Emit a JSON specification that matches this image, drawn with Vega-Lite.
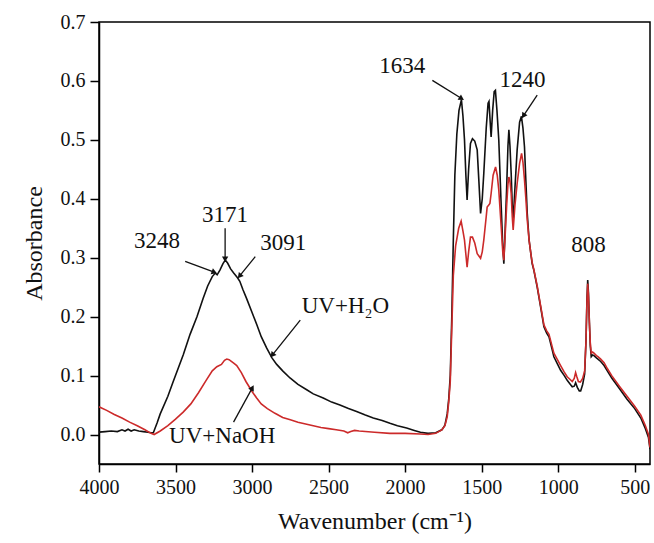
{
  "$schema": "https://vega.github.io/schema/vega-lite/v6.json",
  "autosize": {"type": "none"},
  "padding": {"left": 99, "top": 22, "right": 3, "bottom": 79},
  "width": 551,
  "height": 442,
  "background": "white",
  "config": {
    "view": {"stroke": "black", "strokeWidth": 1.5},
    "axis": {"domainColor": "black", "domainWidth": 1.5, "tickColor": "black", "tickWidth": 1.5, "labelColor": "#111", "titleColor": "#111", "labelFont": "Liberation Serif", "titleFont": "Liberation Serif", "titleFontWeight": "normal", "grid": false},
    "text": {"font": "Liberation Serif"}
  },
  "datasets": {
    "spectra": [
      {"wn":4000,"a":0.004,"s":"UV+H2O"},{"wn":3960,"a":0.005,"s":"UV+H2O"},{"wn":3920,"a":0.006,"s":"UV+H2O"},{"wn":3880,"a":0.005,"s":"UV+H2O"},{"wn":3850,"a":0.008,"s":"UV+H2O"},{"wn":3830,"a":0.006,"s":"UV+H2O"},{"wn":3810,"a":0.009,"s":"UV+H2O"},{"wn":3790,"a":0.006,"s":"UV+H2O"},{"wn":3770,"a":0.008,"s":"UV+H2O"},{"wn":3740,"a":0.006,"s":"UV+H2O"},{"wn":3710,"a":0.005,"s":"UV+H2O"},{"wn":3680,"a":0.004,"s":"UV+H2O"},{"wn":3660,"a":0.003,"s":"UV+H2O"},{"wn":3645,"a":0.003,"s":"UV+H2O"},{"wn":3620,"a":0.02,"s":"UV+H2O"},{"wn":3600,"a":0.035,"s":"UV+H2O"},{"wn":3550,"a":0.065,"s":"UV+H2O"},{"wn":3515,"a":0.09,"s":"UV+H2O"},{"wn":3450,"a":0.135,"s":"UV+H2O"},{"wn":3405,"a":0.17,"s":"UV+H2O"},{"wn":3360,"a":0.2,"s":"UV+H2O"},{"wn":3320,"a":0.231,"s":"UV+H2O"},{"wn":3290,"a":0.252,"s":"UV+H2O"},{"wn":3260,"a":0.268,"s":"UV+H2O"},{"wn":3240,"a":0.274,"s":"UV+H2O"},{"wn":3228,"a":0.271,"s":"UV+H2O"},{"wn":3210,"a":0.279,"s":"UV+H2O"},{"wn":3190,"a":0.29,"s":"UV+H2O"},{"wn":3175,"a":0.296,"s":"UV+H2O"},{"wn":3160,"a":0.291,"s":"UV+H2O"},{"wn":3140,"a":0.281,"s":"UV+H2O"},{"wn":3120,"a":0.274,"s":"UV+H2O"},{"wn":3095,"a":0.266,"s":"UV+H2O"},{"wn":3080,"a":0.26,"s":"UV+H2O"},{"wn":3060,"a":0.246,"s":"UV+H2O"},{"wn":3036,"a":0.231,"s":"UV+H2O"},{"wn":3000,"a":0.207,"s":"UV+H2O"},{"wn":2970,"a":0.187,"s":"UV+H2O"},{"wn":2940,"a":0.166,"s":"UV+H2O"},{"wn":2905,"a":0.147,"s":"UV+H2O"},{"wn":2870,"a":0.13,"s":"UV+H2O"},{"wn":2839,"a":0.119,"s":"UV+H2O"},{"wn":2800,"a":0.108,"s":"UV+H2O"},{"wn":2752,"a":0.096,"s":"UV+H2O"},{"wn":2700,"a":0.085,"s":"UV+H2O"},{"wn":2643,"a":0.076,"s":"UV+H2O"},{"wn":2600,"a":0.069,"s":"UV+H2O"},{"wn":2535,"a":0.062,"s":"UV+H2O"},{"wn":2480,"a":0.055,"s":"UV+H2O"},{"wn":2426,"a":0.05,"s":"UV+H2O"},{"wn":2370,"a":0.044,"s":"UV+H2O"},{"wn":2317,"a":0.039,"s":"UV+H2O"},{"wn":2260,"a":0.033,"s":"UV+H2O"},{"wn":2208,"a":0.028,"s":"UV+H2O"},{"wn":2150,"a":0.024,"s":"UV+H2O"},{"wn":2099,"a":0.019,"s":"UV+H2O"},{"wn":2050,"a":0.015,"s":"UV+H2O"},{"wn":1990,"a":0.011,"s":"UV+H2O"},{"wn":1940,"a":0.007,"s":"UV+H2O"},{"wn":1900,"a":0.004,"s":"UV+H2O"},{"wn":1850,"a":0.002,"s":"UV+H2O"},{"wn":1800,"a":0.003,"s":"UV+H2O"},{"wn":1760,"a":0.008,"s":"UV+H2O"},{"wn":1740,"a":0.016,"s":"UV+H2O"},{"wn":1725,"a":0.035,"s":"UV+H2O"},{"wn":1715,"a":0.06,"s":"UV+H2O"},{"wn":1705,"a":0.1,"s":"UV+H2O"},{"wn":1695,"a":0.2,"s":"UV+H2O"},{"wn":1685,"a":0.33,"s":"UV+H2O"},{"wn":1675,"a":0.44,"s":"UV+H2O"},{"wn":1662,"a":0.51,"s":"UV+H2O"},{"wn":1648,"a":0.55,"s":"UV+H2O"},{"wn":1632,"a":0.568,"s":"UV+H2O"},{"wn":1622,"a":0.54,"s":"UV+H2O"},{"wn":1612,"a":0.5,"s":"UV+H2O"},{"wn":1603,"a":0.44,"s":"UV+H2O"},{"wn":1595,"a":0.398,"s":"UV+H2O"},{"wn":1585,"a":0.45,"s":"UV+H2O"},{"wn":1573,"a":0.494,"s":"UV+H2O"},{"wn":1560,"a":0.502,"s":"UV+H2O"},{"wn":1545,"a":0.498,"s":"UV+H2O"},{"wn":1529,"a":0.483,"s":"UV+H2O"},{"wn":1518,"a":0.43,"s":"UV+H2O"},{"wn":1507,"a":0.375,"s":"UV+H2O"},{"wn":1496,"a":0.4,"s":"UV+H2O"},{"wn":1486,"a":0.443,"s":"UV+H2O"},{"wn":1470,"a":0.52,"s":"UV+H2O"},{"wn":1458,"a":0.562,"s":"UV+H2O"},{"wn":1452,"a":0.565,"s":"UV+H2O"},{"wn":1444,"a":0.53,"s":"UV+H2O"},{"wn":1438,"a":0.505,"s":"UV+H2O"},{"wn":1428,"a":0.55,"s":"UV+H2O"},{"wn":1418,"a":0.582,"s":"UV+H2O"},{"wn":1410,"a":0.584,"s":"UV+H2O"},{"wn":1400,"a":0.55,"s":"UV+H2O"},{"wn":1388,"a":0.5,"s":"UV+H2O"},{"wn":1372,"a":0.386,"s":"UV+H2O"},{"wn":1362,"a":0.32,"s":"UV+H2O"},{"wn":1355,"a":0.29,"s":"UV+H2O"},{"wn":1346,"a":0.35,"s":"UV+H2O"},{"wn":1337,"a":0.415,"s":"UV+H2O"},{"wn":1328,"a":0.49,"s":"UV+H2O"},{"wn":1322,"a":0.517,"s":"UV+H2O"},{"wn":1315,"a":0.49,"s":"UV+H2O"},{"wn":1307,"a":0.443,"s":"UV+H2O"},{"wn":1300,"a":0.39,"s":"UV+H2O"},{"wn":1294,"a":0.364,"s":"UV+H2O"},{"wn":1282,"a":0.42,"s":"UV+H2O"},{"wn":1268,"a":0.483,"s":"UV+H2O"},{"wn":1252,"a":0.53,"s":"UV+H2O"},{"wn":1240,"a":0.54,"s":"UV+H2O"},{"wn":1230,"a":0.52,"s":"UV+H2O"},{"wn":1220,"a":0.488,"s":"UV+H2O"},{"wn":1211,"a":0.43,"s":"UV+H2O"},{"wn":1202,"a":0.375,"s":"UV+H2O"},{"wn":1190,"a":0.33,"s":"UV+H2O"},{"wn":1180,"a":0.31,"s":"UV+H2O"},{"wn":1170,"a":0.29,"s":"UV+H2O"},{"wn":1159,"a":0.279,"s":"UV+H2O"},{"wn":1137,"a":0.25,"s":"UV+H2O"},{"wn":1115,"a":0.217,"s":"UV+H2O"},{"wn":1093,"a":0.183,"s":"UV+H2O"},{"wn":1075,"a":0.172,"s":"UV+H2O"},{"wn":1060,"a":0.166,"s":"UV+H2O"},{"wn":1040,"a":0.145,"s":"UV+H2O"},{"wn":1028,"a":0.132,"s":"UV+H2O"},{"wn":1005,"a":0.12,"s":"UV+H2O"},{"wn":984,"a":0.109,"s":"UV+H2O"},{"wn":960,"a":0.1,"s":"UV+H2O"},{"wn":941,"a":0.092,"s":"UV+H2O"},{"wn":920,"a":0.085,"s":"UV+H2O"},{"wn":908,"a":0.081,"s":"UV+H2O"},{"wn":895,"a":0.082,"s":"UV+H2O"},{"wn":886,"a":0.088,"s":"UV+H2O"},{"wn":875,"a":0.08,"s":"UV+H2O"},{"wn":862,"a":0.074,"s":"UV+H2O"},{"wn":853,"a":0.074,"s":"UV+H2O"},{"wn":840,"a":0.085,"s":"UV+H2O"},{"wn":827,"a":0.103,"s":"UV+H2O"},{"wn":818,"a":0.16,"s":"UV+H2O"},{"wn":812,"a":0.23,"s":"UV+H2O"},{"wn":807,"a":0.262,"s":"UV+H2O"},{"wn":802,"a":0.24,"s":"UV+H2O"},{"wn":796,"a":0.19,"s":"UV+H2O"},{"wn":790,"a":0.15,"s":"UV+H2O"},{"wn":784,"a":0.132,"s":"UV+H2O"},{"wn":775,"a":0.135,"s":"UV+H2O"},{"wn":766,"a":0.134,"s":"UV+H2O"},{"wn":750,"a":0.13,"s":"UV+H2O"},{"wn":740,"a":0.128,"s":"UV+H2O"},{"wn":722,"a":0.124,"s":"UV+H2O"},{"wn":700,"a":0.117,"s":"UV+H2O"},{"wn":679,"a":0.108,"s":"UV+H2O"},{"wn":650,"a":0.096,"s":"UV+H2O"},{"wn":600,"a":0.078,"s":"UV+H2O"},{"wn":550,"a":0.06,"s":"UV+H2O"},{"wn":500,"a":0.044,"s":"UV+H2O"},{"wn":460,"a":0.028,"s":"UV+H2O"},{"wn":430,"a":0.01,"s":"UV+H2O"},{"wn":410,"a":-0.005,"s":"UV+H2O"},{"wn":400,"a":-0.025,"s":"UV+H2O"},
      {"wn":4000,"a":0.047,"s":"UV+NaOH"},{"wn":3950,"a":0.041,"s":"UV+NaOH"},{"wn":3900,"a":0.034,"s":"UV+NaOH"},{"wn":3850,"a":0.028,"s":"UV+NaOH"},{"wn":3800,"a":0.021,"s":"UV+NaOH"},{"wn":3750,"a":0.015,"s":"UV+NaOH"},{"wn":3700,"a":0.008,"s":"UV+NaOH"},{"wn":3660,"a":0.002,"s":"UV+NaOH"},{"wn":3640,"a":0.0,"s":"UV+NaOH"},{"wn":3600,"a":0.006,"s":"UV+NaOH"},{"wn":3550,"a":0.015,"s":"UV+NaOH"},{"wn":3500,"a":0.026,"s":"UV+NaOH"},{"wn":3450,"a":0.038,"s":"UV+NaOH"},{"wn":3400,"a":0.052,"s":"UV+NaOH"},{"wn":3350,"a":0.071,"s":"UV+NaOH"},{"wn":3300,"a":0.092,"s":"UV+NaOH"},{"wn":3260,"a":0.108,"s":"UV+NaOH"},{"wn":3230,"a":0.115,"s":"UV+NaOH"},{"wn":3200,"a":0.119,"s":"UV+NaOH"},{"wn":3180,"a":0.126,"s":"UV+NaOH"},{"wn":3165,"a":0.128,"s":"UV+NaOH"},{"wn":3150,"a":0.127,"s":"UV+NaOH"},{"wn":3120,"a":0.121,"s":"UV+NaOH"},{"wn":3100,"a":0.117,"s":"UV+NaOH"},{"wn":3070,"a":0.105,"s":"UV+NaOH"},{"wn":3040,"a":0.09,"s":"UV+NaOH"},{"wn":3000,"a":0.073,"s":"UV+NaOH"},{"wn":2970,"a":0.062,"s":"UV+NaOH"},{"wn":2940,"a":0.052,"s":"UV+NaOH"},{"wn":2900,"a":0.044,"s":"UV+NaOH"},{"wn":2850,"a":0.036,"s":"UV+NaOH"},{"wn":2800,"a":0.029,"s":"UV+NaOH"},{"wn":2750,"a":0.025,"s":"UV+NaOH"},{"wn":2700,"a":0.021,"s":"UV+NaOH"},{"wn":2650,"a":0.018,"s":"UV+NaOH"},{"wn":2600,"a":0.015,"s":"UV+NaOH"},{"wn":2550,"a":0.012,"s":"UV+NaOH"},{"wn":2500,"a":0.01,"s":"UV+NaOH"},{"wn":2450,"a":0.008,"s":"UV+NaOH"},{"wn":2400,"a":0.006,"s":"UV+NaOH"},{"wn":2375,"a":0.003,"s":"UV+NaOH"},{"wn":2355,"a":0.005,"s":"UV+NaOH"},{"wn":2330,"a":0.007,"s":"UV+NaOH"},{"wn":2300,"a":0.006,"s":"UV+NaOH"},{"wn":2200,"a":0.004,"s":"UV+NaOH"},{"wn":2100,"a":0.002,"s":"UV+NaOH"},{"wn":2000,"a":0.002,"s":"UV+NaOH"},{"wn":1900,"a":0.001,"s":"UV+NaOH"},{"wn":1850,"a":0.0,"s":"UV+NaOH"},{"wn":1800,"a":0.002,"s":"UV+NaOH"},{"wn":1760,"a":0.008,"s":"UV+NaOH"},{"wn":1740,"a":0.015,"s":"UV+NaOH"},{"wn":1725,"a":0.03,"s":"UV+NaOH"},{"wn":1715,"a":0.055,"s":"UV+NaOH"},{"wn":1705,"a":0.09,"s":"UV+NaOH"},{"wn":1695,"a":0.18,"s":"UV+NaOH"},{"wn":1685,"a":0.27,"s":"UV+NaOH"},{"wn":1670,"a":0.32,"s":"UV+NaOH"},{"wn":1650,"a":0.35,"s":"UV+NaOH"},{"wn":1634,"a":0.362,"s":"UV+NaOH"},{"wn":1622,"a":0.345,"s":"UV+NaOH"},{"wn":1612,"a":0.33,"s":"UV+NaOH"},{"wn":1595,"a":0.284,"s":"UV+NaOH"},{"wn":1585,"a":0.31,"s":"UV+NaOH"},{"wn":1573,"a":0.335,"s":"UV+NaOH"},{"wn":1560,"a":0.335,"s":"UV+NaOH"},{"wn":1545,"a":0.325,"s":"UV+NaOH"},{"wn":1529,"a":0.307,"s":"UV+NaOH"},{"wn":1507,"a":0.299,"s":"UV+NaOH"},{"wn":1496,"a":0.31,"s":"UV+NaOH"},{"wn":1486,"a":0.33,"s":"UV+NaOH"},{"wn":1470,"a":0.37,"s":"UV+NaOH"},{"wn":1464,"a":0.386,"s":"UV+NaOH"},{"wn":1452,"a":0.39,"s":"UV+NaOH"},{"wn":1446,"a":0.392,"s":"UV+NaOH"},{"wn":1438,"a":0.409,"s":"UV+NaOH"},{"wn":1425,"a":0.44,"s":"UV+NaOH"},{"wn":1409,"a":0.454,"s":"UV+NaOH"},{"wn":1398,"a":0.44,"s":"UV+NaOH"},{"wn":1388,"a":0.415,"s":"UV+NaOH"},{"wn":1372,"a":0.352,"s":"UV+NaOH"},{"wn":1362,"a":0.31,"s":"UV+NaOH"},{"wn":1355,"a":0.296,"s":"UV+NaOH"},{"wn":1346,"a":0.34,"s":"UV+NaOH"},{"wn":1337,"a":0.386,"s":"UV+NaOH"},{"wn":1328,"a":0.425,"s":"UV+NaOH"},{"wn":1322,"a":0.437,"s":"UV+NaOH"},{"wn":1315,"a":0.43,"s":"UV+NaOH"},{"wn":1307,"a":0.409,"s":"UV+NaOH"},{"wn":1300,"a":0.37,"s":"UV+NaOH"},{"wn":1294,"a":0.347,"s":"UV+NaOH"},{"wn":1282,"a":0.39,"s":"UV+NaOH"},{"wn":1268,"a":0.426,"s":"UV+NaOH"},{"wn":1252,"a":0.46,"s":"UV+NaOH"},{"wn":1239,"a":0.477,"s":"UV+NaOH"},{"wn":1230,"a":0.462,"s":"UV+NaOH"},{"wn":1220,"a":0.432,"s":"UV+NaOH"},{"wn":1211,"a":0.4,"s":"UV+NaOH"},{"wn":1202,"a":0.364,"s":"UV+NaOH"},{"wn":1190,"a":0.33,"s":"UV+NaOH"},{"wn":1180,"a":0.31,"s":"UV+NaOH"},{"wn":1170,"a":0.292,"s":"UV+NaOH"},{"wn":1159,"a":0.28,"s":"UV+NaOH"},{"wn":1137,"a":0.252,"s":"UV+NaOH"},{"wn":1115,"a":0.219,"s":"UV+NaOH"},{"wn":1093,"a":0.186,"s":"UV+NaOH"},{"wn":1075,"a":0.176,"s":"UV+NaOH"},{"wn":1060,"a":0.17,"s":"UV+NaOH"},{"wn":1040,"a":0.15,"s":"UV+NaOH"},{"wn":1028,"a":0.138,"s":"UV+NaOH"},{"wn":1005,"a":0.127,"s":"UV+NaOH"},{"wn":984,"a":0.117,"s":"UV+NaOH"},{"wn":960,"a":0.106,"s":"UV+NaOH"},{"wn":941,"a":0.098,"s":"UV+NaOH"},{"wn":920,"a":0.093,"s":"UV+NaOH"},{"wn":908,"a":0.09,"s":"UV+NaOH"},{"wn":895,"a":0.095,"s":"UV+NaOH"},{"wn":886,"a":0.105,"s":"UV+NaOH"},{"wn":878,"a":0.098,"s":"UV+NaOH"},{"wn":868,"a":0.09,"s":"UV+NaOH"},{"wn":855,"a":0.089,"s":"UV+NaOH"},{"wn":840,"a":0.095,"s":"UV+NaOH"},{"wn":827,"a":0.108,"s":"UV+NaOH"},{"wn":818,"a":0.16,"s":"UV+NaOH"},{"wn":812,"a":0.225,"s":"UV+NaOH"},{"wn":807,"a":0.256,"s":"UV+NaOH"},{"wn":802,"a":0.235,"s":"UV+NaOH"},{"wn":796,"a":0.19,"s":"UV+NaOH"},{"wn":790,"a":0.155,"s":"UV+NaOH"},{"wn":784,"a":0.138,"s":"UV+NaOH"},{"wn":775,"a":0.14,"s":"UV+NaOH"},{"wn":766,"a":0.138,"s":"UV+NaOH"},{"wn":750,"a":0.134,"s":"UV+NaOH"},{"wn":740,"a":0.132,"s":"UV+NaOH"},{"wn":722,"a":0.128,"s":"UV+NaOH"},{"wn":700,"a":0.122,"s":"UV+NaOH"},{"wn":679,"a":0.112,"s":"UV+NaOH"},{"wn":650,"a":0.1,"s":"UV+NaOH"},{"wn":600,"a":0.082,"s":"UV+NaOH"},{"wn":550,"a":0.065,"s":"UV+NaOH"},{"wn":500,"a":0.048,"s":"UV+NaOH"},{"wn":460,"a":0.033,"s":"UV+NaOH"},{"wn":430,"a":0.015,"s":"UV+NaOH"},{"wn":410,"a":0.0,"s":"UV+NaOH"},{"wn":400,"a":-0.022,"s":"UV+NaOH"}
    ],
    "labels": [
      {"t":"1634","wn":2018,"a":0.625},
      {"t":"1240","wn":1233,"a":0.601},
      {"t":"808","wn":801,"a":0.321},
      {"t":"3248","wn":3621,"a":0.328},
      {"t":"3171","wn":3176,"a":0.372},
      {"t":"3091","wn":2796,"a":0.325},
      {"t":"UV+H₂O","wn":2390,"a":0.218},
      {"t":"UV+NaOH","wn":3195,"a":-0.003}
    ],
    "arrows": [
      {"wn":1822,"a":0.601,"wn2":1636,"a2":0.571,"ang":122.7},
      {"wn":1137,"a":0.576,"wn2":1224,"a2":0.542,"ang":213.8},
      {"wn":3437,"a":0.294,"wn2":3252,"a2":0.276,"ang":110.7},
      {"wn":3176,"a":0.35,"wn2":3176,"a2":0.299,"ang":180},
      {"wn":2979,"a":0.302,"wn2":3078,"a2":0.27,"ang":219.3},
      {"wn":2685,"a":0.194,"wn2":2864,"a2":0.136,"ang":218.8},
      {"wn":3121,"a":0.021,"wn2":3001,"a2":0.078,"ang":28.9}
    ]
  },
  "layer": [
    {
      "data": {"name": "spectra"},
      "mark": {"type": "line", "strokeWidth": 1.6, "clip": true},
      "encoding": {
        "x": {"field": "wn", "type": "quantitative", "title": "Wavenumber (cm⁻¹)",
          "scale": {"domain": [4000, 400], "nice": false, "zero": false},
          "axis": {"values": [4000,3750,3500,3250,3000,2750,2500,2250,2000,1750,1500,1250,1000,750,500],
            "format": "d",
            "labelExpr": "datum.value % 500 === 0 ? datum.label : ''",
            "tickSize": {"condition": {"test": "datum.value % 500 === 0", "value": 8}, "value": 5},
            "labelFontSize": 20, "labelPadding": 5, "labelFlush": false, "titleFontSize": 24, "titlePadding": 12}},
        "y": {"field": "a", "type": "quantitative", "title": "Absorbance",
          "scale": {"domain": [-0.05, 0.7], "nice": false, "zero": false},
          "axis": {"values": [0,0.05,0.1,0.15,0.2,0.25,0.3,0.35,0.4,0.45,0.5,0.55,0.6,0.65,0.7],
            "format": ".1f",
            "labelExpr": "abs(datum.value*10 - round(datum.value*10)) < 0.001 ? datum.label : ''",
            "tickSize": {"condition": {"test": "abs(datum.value*10 - round(datum.value*10)) < 0.001", "value": 9}, "value": 5},
            "labelFontSize": 20, "labelPadding": 5, "labelFlush": false, "titleFontSize": 24, "titlePadding": 14}},
        "color": {"field": "s", "type": "nominal", "scale": {"domain": ["UV+H2O", "UV+NaOH"], "range": ["#111111", "#cc2a2a"]}, "legend": null}
      }
    },
    {
      "data": {"name": "arrows"},
      "mark": {"type": "rule", "color": "#111111", "strokeWidth": 1.3},
      "encoding": {
        "x": {"field": "wn", "type": "quantitative"},
        "y": {"field": "a", "type": "quantitative"},
        "x2": {"field": "wn2"},
        "y2": {"field": "a2"}
      }
    },
    {
      "data": {"name": "arrows"},
      "mark": {"type": "point", "shape": "triangle", "filled": true, "size": 40, "color": "#111111", "opacity": 1},
      "encoding": {
        "x": {"field": "wn2", "type": "quantitative"},
        "y": {"field": "a2", "type": "quantitative"},
        "angle": {"field": "ang", "type": "quantitative", "scale": null}
      }
    },
    {
      "data": {"name": "labels"},
      "mark": {"type": "text", "fontSize": 23, "color": "#111111", "align": "center", "baseline": "middle", "font": "Liberation Serif"},
      "encoding": {
        "x": {"field": "wn", "type": "quantitative"},
        "y": {"field": "a", "type": "quantitative"},
        "text": {"field": "t"}
      }
    }
  ]
}
